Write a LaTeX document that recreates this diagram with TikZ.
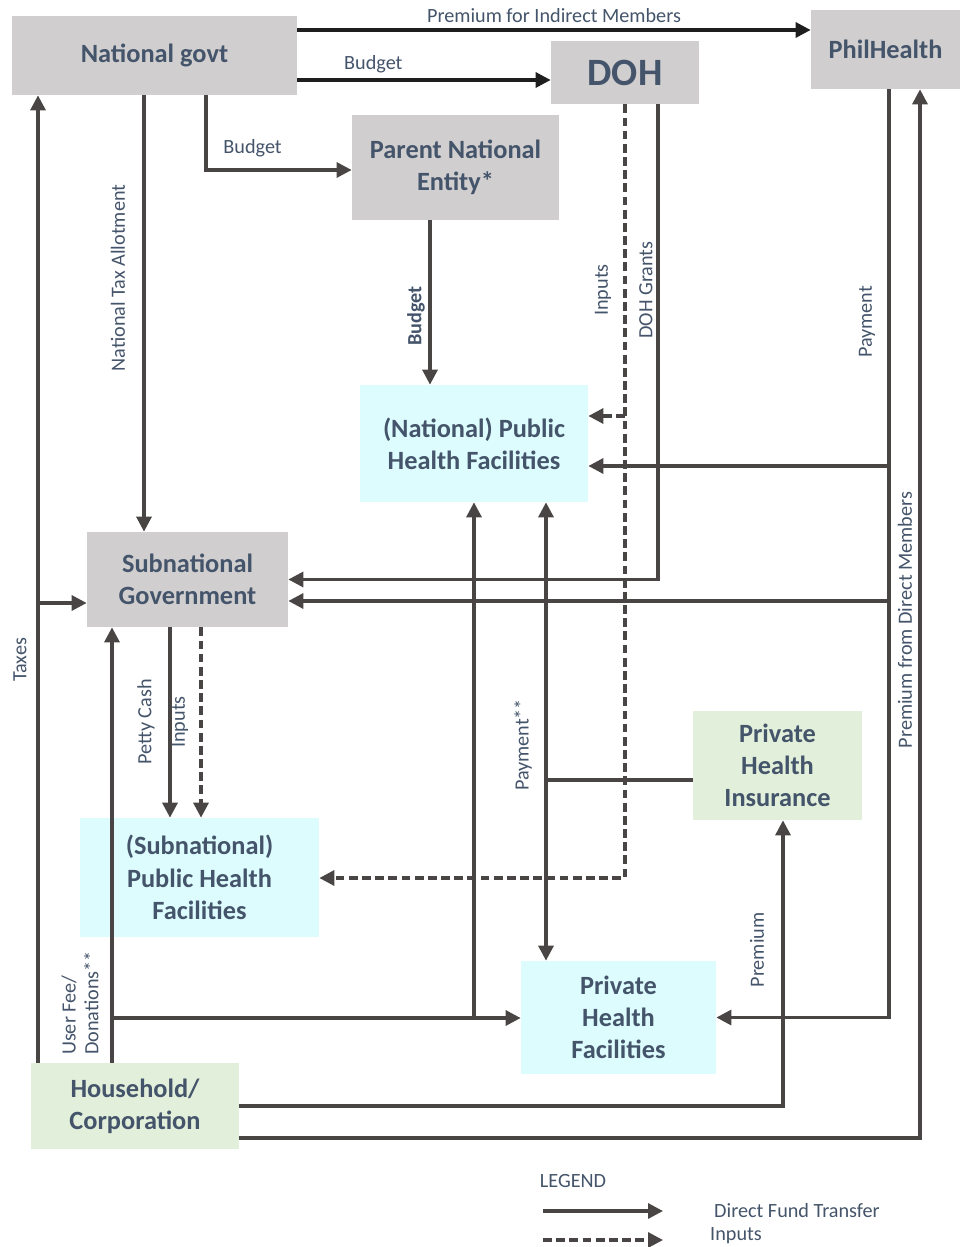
\documentclass[tikz,border=0pt]{standalone}
\usepackage{fontspec}
\setmainfont{Carlito}
\usetikzlibrary{arrows.meta,positioning}
\definecolor{FlowGray}{HTML}{D0CECE}
\definecolor{FlowCyan}{HTML}{DDFCFD}
\definecolor{FlowGreen}{HTML}{E2EFDA}
\definecolor{FlowText}{HTML}{44546A}
\definecolor{FlowLine}{HTML}{4A4545}
\definecolor{FlowDark}{HTML}{1E1E1E}

\begin{document}
\begin{tikzpicture}[x=0.02cm, y=-0.02cm, >={Triangle[length=8.5pt,width=8.5pt]}, every node/.style={text=FlowText}, box/.style={align=center, inner sep=0pt, font=\fontsize{15}{18.4}\selectfont\bfseries}, gbox/.style={box, fill=FlowGray}, cbox/.style={box, fill=FlowCyan}, ebox/.style={box, fill=FlowGreen}, dims/.style 2 args={minimum width=#1*0.02cm, minimum height=#2*0.02cm}, lbl/.style={font=\fontsize{11.5}{13}\selectfont}, fund/.style={draw=FlowLine, line width=1.8pt, ->}, inp/.style={fund, dash pattern=on 5pt off 2.5pt}, link/.style={draw=FlowLine, line width=1.8pt}]
\useasboundingbox (0,0) rectangle (960,1247);
% boxes
\node[gbox, dims={285}{79}] (ng) at (154.5,55.5) {National govt};
\node[gbox, dims={148}{63}, font=\fontsize{22}{24}\selectfont\bfseries] (doh) at (625,72.5) {DOH};
\node[gbox, dims={149}{79}] (ph) at (885.5,49.5) {PhilHealth};
\node[gbox, dims={207}{105}] (pne) at (455.5,167.5) {Parent National\\Entity*};
\node[cbox, dims={228}{117}] (nphf) at (474,443.5) {(National) Public\\Health Facilities};
\node[gbox, dims={201}{95}] (sng) at (187.5,579.5) {Subnational\\Government};
\node[cbox, dims={239}{119}] (sphf) at (199.5,877.5) {(Subnational)\\Public Health\\Facilities};
\node[ebox, dims={169}{109}] (phi) at (777.5,765.5) {Private\\Health\\Insurance};
\node[cbox, dims={195}{113}] (pvhf) at (618.5,1017.5) {Private\\Health\\Facilities};
\node[ebox, dims={208}{86}] (hh) at (135,1106) {Household/\\Corporation};
% bend points
\coordinate (indm) at (0,30);
\coordinate (bud) at (0,80);
\coordinate (pnebend) at (206,170);
\coordinate (nta) at (144,0);
\coordinate (tax) at (38,0);
\coordinate (taxbr) at (38,603);
\coordinate (pneb) at (430,0);
\coordinate (dinp) at (625,878);
\coordinate (dinpbr) at (625,416);
\coordinate (dgr) at (658,0);
\coordinate (phpay) at (889,0);
\coordinate (phbr1) at (889,466);
\coordinate (phbr2) at (889,601);
\coordinate (pdm) at (920,1138);
\coordinate (prm) at (783,1106);
\coordinate (uf) at (112,1018);
\coordinate (pp) at (546,780);
\coordinate (pc) at (170,0);
\coordinate (si) at (201,0);
% national level
\draw[fund, draw=FlowDark] (ng.east |- indm) -- (ph.west |- indm) node[lbl, midway, above] (indlbl) {Premium for Indirect Members};
\draw[fund, draw=FlowDark] (ng.east |- bud) -- (doh.west |- bud) node[lbl, pos=0.3, above] (budlbl) {Budget};
\draw[fund] (pnebend |- ng.south) -- (pnebend) -- (pnebend -| pne.west) node[lbl, pos=0.32, above=3pt] (pnelbl) {Budget};
\draw[fund] (nta |- ng.south) -- (nta |- sng.north);
\draw[fund] (pneb |- pne.south) -- (pneb |- nphf.north);
% taxes
\draw[fund] (tax |- hh.north) -- (tax |- ng.south);
\draw[fund] (taxbr) -- (taxbr -| sng.west);
% DOH
\draw[inp] (doh.south) -- (dinp) -- (dinp -| sphf.east);
\draw[inp] (dinpbr) -- (dinpbr -| nphf.east);
\draw[fund] (dgr |- doh.south) -- (dgr |- sng.east) -- (sng.east);
% PhilHealth
\draw[fund] (phpay |- ph.south) -- (phpay |- pvhf.east) -- (pvhf.east);
\draw[fund] (phbr1) -- (phbr1 -| nphf.east);
\draw[fund] (phbr2) -- (phbr2 -| sng.east);
% household
\draw[fund] (pdm -| hh.east) -- (pdm) -- (pdm |- ph.south);
\draw[fund] (hh.east) -- (prm) -- (prm |- phi.south);
\draw[fund] (uf |- hh.north) -- (uf |- sng.south);
\draw[fund] (uf) -- (uf -| pvhf.west);
\draw[fund] (uf -| nphf.south) -- (nphf.south);
% private insurance
\draw[link] (phi.west |- pp) -- (pp);
\draw[fund, <->] (pp |- nphf.south) -- (pp |- pvhf.north);
% subnational
\draw[fund] (pc |- sng.south) -- (pc |- sphf.north);
\draw[inp] (si |- sng.south) -- (si |- sphf.north);
% vertical labels
\node[lbl, rotate=90] (ntalbl) at (118,278) {National Tax Allotment};
\node[lbl, rotate=90] (taxlbl) at (20,660) {Taxes};
\node[lbl, rotate=90, font=\fontsize{11.5}{13}\selectfont\bfseries] (nbudlbl) at (416,316) {Budget};
\node[lbl, rotate=90] (dinplbl) at (603,290) {Inputs};
\node[lbl, rotate=90] (dgrlbl) at (646,290) {DOH Grants};
\node[lbl, rotate=90] (paylbl) at (867,322) {Payment};
\node[lbl, rotate=90] (pdmlbl) at (905,620) {Premium from Direct Members};
\node[lbl, rotate=90] (prmlbl) at (757,950) {Premium};
\node[lbl, rotate=90, align=left] (uflbl) at (80,1003) {User Fee/\\Donations**};
\node[lbl, rotate=90] (pplbl) at (523,745) {Payment**};
\node[lbl, rotate=90] (pclbl) at (146,722) {Petty Cash};
\node[lbl, rotate=90] (silbl) at (180,722) {Inputs};
% legend
\node[lbl] (lgd) at (573,1181) {LEGEND};
\coordinate (lgfa) at (543,1211);
\coordinate (lgfb) at (663,1211);
\draw[fund] (lgfa) -- (lgfb);
\node[lbl, anchor=west] (lgft) at (708,1211) {Direct Fund Transfer};
\coordinate (lgia) at (543,1240);
\coordinate (lgib) at (663,1240);
\draw[inp] (lgia) -- (lgib);
\node[lbl, anchor=west] (lgit) at (704,1236) {Inputs};
\end{tikzpicture}
\end{document}
